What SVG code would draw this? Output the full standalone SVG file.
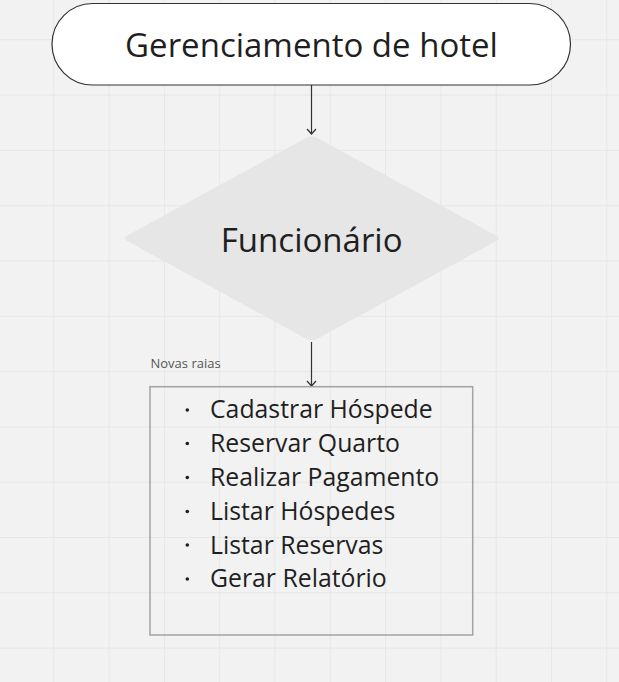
<svg xmlns="http://www.w3.org/2000/svg" width="619" height="682" viewBox="0 0 619 682">
<defs>
<pattern id="grid" x="53.3" y="39.3" width="55.3" height="55.3" patternUnits="userSpaceOnUse">
<path d="M0 0H55.3M0 0V55.3" fill="none" stroke="#e4e4e4" stroke-width="1.5"/>
</pattern>
<marker id="arr" markerWidth="12" markerHeight="12" refX="10" refY="6" orient="auto" markerUnits="userSpaceOnUse" viewBox="0 0 12 12">
<path d="M5 1.5 L10 6 L5 10.5" fill="none" stroke="#333" stroke-width="1.2"/>
</marker>
<style>
.t{font-family:"Open Sans","Noto Sans",sans-serif;fill:#1f1f1f}
.big{font-size:33px}
.li{font-size:24.8px}
.conn{stroke:#333;stroke-width:1.2;fill:none}
</style>
</defs>
<rect width="619" height="682" fill="#f2f2f2"/>
<rect width="619" height="682" fill="url(#grid)"/>
<g id="connectors">
<line class="conn" x1="311.5" y1="85" x2="311.5" y2="134" marker-end="url(#arr)"/>
<line class="conn" x1="311.5" y1="342" x2="311.5" y2="386" marker-end="url(#arr)"/>
</g>
<g id="start">
<rect x="52" y="3.5" width="518.5" height="81.5" rx="40.75" fill="#ffffff" stroke="#333" stroke-width="1.2"/>
<text class="t big" x="311.5" y="57" text-anchor="middle">Gerenciamento de hotel</text>
</g>
<g id="decision">
<path d="M306.5 137.8 Q311.7 135 316.9 137.8 L496.2 235.5 Q501.4 238.3 496.2 241.1 L316.9 338.9 Q311.7 341.7 306.5 338.9 L127.2 241.1 Q122 238.3 127.2 235.5 Z" fill="#e6e6e6"/>
<text class="t big" x="311.7" y="252" text-anchor="middle">Funcionário</text>
</g>
<g id="lane">
<text class="t" x="150.5" y="367.7" font-size="13" style="fill:#555">Novas raias</text>
<rect x="150" y="386.7" width="322.7" height="248.3" fill="none" stroke="#a3a3a3" stroke-width="1.5"/>
<g fill="#1f1f1f">
<circle cx="187.3" cy="410" r="1.8"/>
<circle cx="187.3" cy="443.5" r="1.8"/>
<circle cx="187.3" cy="477.5" r="1.8"/>
<circle cx="187.3" cy="511.5" r="1.8"/>
<circle cx="187.3" cy="545" r="1.8"/>
<circle cx="187.3" cy="579" r="1.8"/>
</g>
<text class="t li" x="210" y="418.3">Cadastrar Hóspede</text>
<text class="t li" x="210" y="451.9">Reservar Quarto</text>
<text class="t li" x="210" y="485.8">Realizar Pagamento</text>
<text class="t li" x="210" y="519.7">Listar Hóspedes</text>
<text class="t li" x="210" y="553.5">Listar Reservas</text>
<text class="t li" x="210" y="587.3">Gerar Relatório</text>
</g>
</svg>
